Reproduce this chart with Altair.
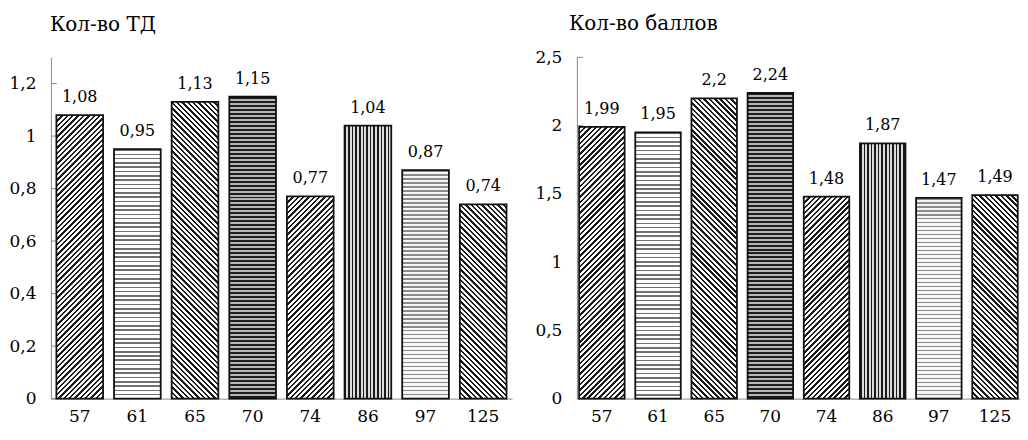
import math
import altair as alt
import pandas as pd

# ---- data ----
categories = ["57", "61", "65", "70", "74", "86", "97", "125"]
td_values = [1.08, 0.95, 1.13, 1.15, 0.77, 1.04, 0.87, 0.74]
score_values = [1.99, 1.95, 2.2, 2.24, 1.48, 1.87, 1.47, 1.49]
td_ticks = [0, 0.2, 0.4, 0.6, 0.8, 1.0, 1.2]
score_ticks = [0, 0.5, 1.0, 1.5, 2.0, 2.5]
hatches = ["up", "hlight", "down", "hdark", "up", "vert", "hlight2", "down"]

# ---- styling ----
FONT = "DejaVu Serif"
GREY = "#8c8c8c"
PLOT_H = 342
PI = 0.19

HATCH_STYLE = {
    "up": dict(kind="up", period=3.8, line=1.7, fg="#1a1a1a", bg="#ffffff"),
    "down": dict(kind="down", period=3.8, line=1.7, fg="#1a1a1a", bg="#ffffff"),
    "hlight": dict(kind="h", period=4.3, line=1.6, fg="#707070", bg="#ffffff"),
    "hlight2": dict(kind="h", period=4.0, line=1.6, fg="#8c8c8c", bg="#f6f6f6"),
    "hdark": dict(kind="h", period=4.0, line=2.0, fg="#1e1e1e", bg="#b5b5b5"),
    "vert": dict(kind="v", period=3.6, line=1.6, fg="#1a1a1a", bg="#dcdcdc"),
}


def hatch_gradient(style, w, h):
    kind = style["kind"]
    P = style["period"]
    fg, bg = style["fg"], style["bg"]
    if kind == "h":
        coords = dict(x1=0, y1=0, x2=0, y2=1)
        span = h
    elif kind == "v":
        coords = dict(x1=0, y1=0, x2=1, y2=0)
        span = w
    else:
        k = (w + h) / (w * w + h * h)
        a, b = k * w, k * h
        if kind == "up":
            coords = dict(x1=0, y1=0, x2=round(a, 5), y2=round(b, 5))
        else:
            coords = dict(x1=0, y1=1, x2=round(a, 5), y2=round(1 - b, 5))
        span = (w + h) / math.sqrt(2)
    dt = P / span
    f = style["line"] / P
    stops = []
    t = 0.0
    while t < 1:
        t1 = min(t + f * dt, 1.0)
        t2 = min(t + dt, 1.0)
        stops += [(t, fg), (t1, fg), (t1, bg), (t2, bg)]
        t += dt
    return alt.LinearGradient(
        gradient="linear",
        stops=[alt.GradientStop(offset=round(o, 5), color=c) for o, c in stops],
        **coords,
    )


def panel(title, values, ticks, ymax, width, po, title_dx, title_offset):
    df = pd.DataFrame({"cat": categories, "v": values})
    n = len(categories)
    step = width / (n - PI + 2 * po)
    bw = step * (1 - PI)

    xenc = alt.X(
        "cat:N",
        sort=categories,
        scale=alt.Scale(paddingInner=PI, paddingOuter=po),
        axis=alt.Axis(
            title=None, labelAngle=0, ticks=False, labelPadding=10,
            domainColor=GREY, domainWidth=1, labelFontSize=17,
            labelFont=FONT, labelColor="black",
        ),
    )
    yscale = alt.Scale(domain=[0, ymax], nice=False, zero=True)
    yaxis = alt.Axis(
        title=None, values=ticks, grid=False, ticks=False,
        labelPadding=15, domainColor=GREY, domainWidth=1,
        labelExpr="replace(format(datum.value, '.1~f'), '.', ',')",
        labelFontSize=17, labelFont=FONT, labelColor="black",
    )
    yenc = alt.Y("v:Q", scale=yscale, axis=yaxis)

    tick_layer = (
        alt.Chart(pd.DataFrame({"v": ticks}))
        .mark_rule(color=GREY, strokeWidth=1)
        .encode(y=alt.Y("v:Q", scale=yscale, axis=yaxis),
                x=alt.value(0), x2=alt.value(6))
    )

    base = alt.Chart(df)
    bars = []
    for c, v, hk in zip(categories, values, hatches):
        h = v / ymax * PLOT_H
        grad = hatch_gradient(HATCH_STYLE[hk], bw, h)
        bars.append(
            base.transform_filter(alt.datum.cat == c)
            .mark_bar(fill=grad, stroke="#111111", strokeWidth=1.8)
            .encode(x=xenc, y=yenc)
        )

    text = (
        base.transform_calculate(label="replace(format(datum.v, '.2~f'), '.', ',')")
        .mark_text(font=FONT, fontSize=16, color="black",
                   baseline="alphabetic", dy=-13)
        .encode(x=xenc, y=yenc, text="label:N")
    )

    return alt.layer(tick_layer, *bars, text).properties(
        width=width,
        height=PLOT_H,
        title=alt.TitleParams(
            text=title, anchor="start", frame="group", font=FONT, fontSize=20,
            fontWeight="normal", color="black", offset=title_offset,
            baseline="alphabetic", dx=title_dx,
        ),
    )


left = panel("Кол-во ТД", td_values, td_ticks, 1.3, 462, 0.095, -1, 6)
right = panel("Кол-во баллов", score_values, score_ticks, 2.5, 444, 0.04, -8, -2)

chart = (
    alt.hconcat(left, right, spacing=22)
    .properties(padding={"left": 0, "top": 6, "right": 0, "bottom": 0},
                background="white")
    .configure_view(strokeWidth=0)
)

chart.save("out.html", embed_options={"renderer": "svg", "actions": False})
